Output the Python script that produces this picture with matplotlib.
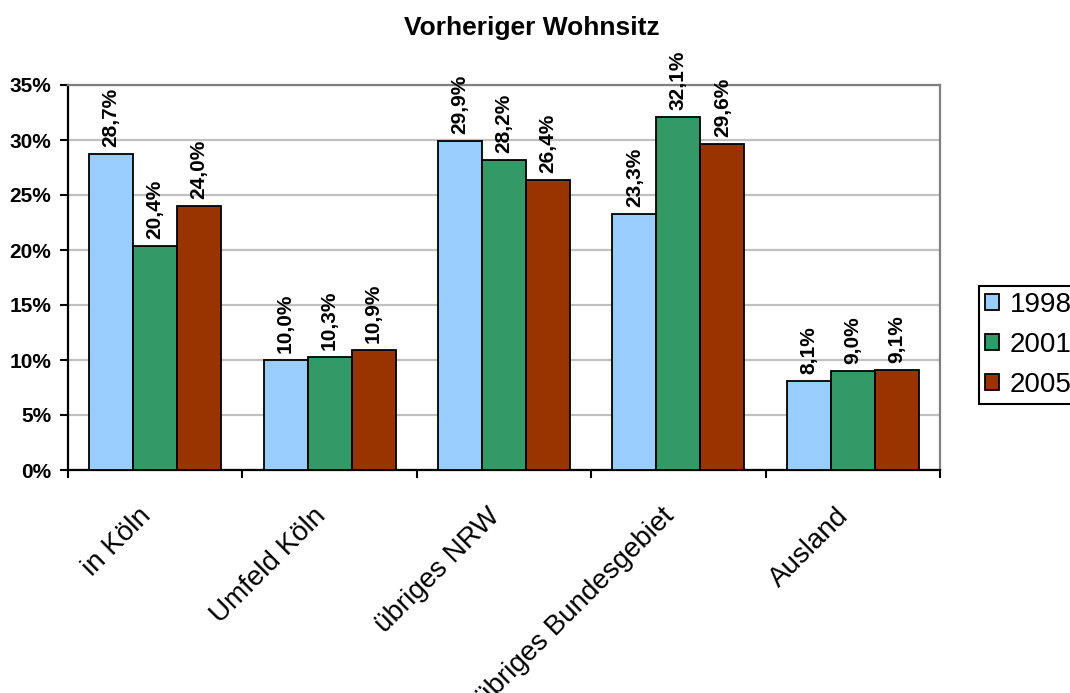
import numpy as np
import matplotlib
matplotlib.use("Agg")
import matplotlib.pyplot as plt
import matplotlib.transforms as mtransforms

plt.rcParams['font.family'] = ['Liberation Sans', 'DejaVu Sans']

# Vorheriger Wohnsitz, Anteile in Prozent
categories = ['in Köln', 'Umfeld Köln', 'übriges NRW', 'übriges Bundesgebiet', 'Ausland']
years = ['1998', '2001', '2005']
v1998 = [28.7, 10.0, 29.9, 23.3, 8.1]
v2001 = [20.4, 10.3, 28.2, 32.1, 9.0]
v2005 = [24.0, 10.9, 26.4, 29.6, 9.1]
colors = ['#99CCFF', '#339966', '#993300']
yticks = [0, 5, 10, 15, 20, 25, 30, 35]

fig = plt.figure(figsize=(10.7, 6.93), dpi=100)
ax = fig.add_axes([68 / 1070, 1 - 470 / 693, 872 / 1070, 385 / 693])

x = np.arange(len(categories))
width = 0.2523
series = [v1998, v2001, v2005]
for k, (vals, col, lab) in enumerate(zip(series, colors, years)):
    pos = x + (k - 1) * width
    bars = ax.bar(pos, vals, width, color=col, edgecolor='black',
                  linewidth=1.3, label=lab, zorder=3)
    for b, v in zip(bars, vals):
        ax.annotate(f"{v:.1f}%".replace('.', ','),
                    (b.get_x() + b.get_width() / 2, v),
                    xytext=(0, 5), textcoords='offset points',
                    rotation=90, ha='center', va='bottom',
                    fontsize=15, fontweight='bold', zorder=4)

ax.set_xlim(-0.5, len(categories) - 0.5)
ax.set_ylim(0, 35)
ax.set_yticks(yticks)
ax.set_yticklabels([f"{t}%" for t in yticks], fontsize=15, fontweight='bold')
ax.yaxis.grid(True, color='#c0c0c0', linewidth=1.6, zorder=0)
ax.set_axisbelow(True)

# tick marks between the groups, labels drawn separately
ax.set_xticks(np.arange(len(categories) + 1) - 0.5)
ax.set_xticklabels([])
ax.tick_params(axis='both', direction='out', length=6, width=1.5, color='black')
ax.tick_params(axis='y', pad=6)

offset = mtransforms.ScaledTranslation(-8 / 100, -42 / 100, fig.dpi_scale_trans)
trans = mtransforms.blended_transform_factory(ax.transData, ax.transAxes) + offset
for xi, cat in zip(x, categories):
    ax.text(xi, 0, cat, transform=trans, rotation=45, rotation_mode='anchor',
            ha='right', va='center', fontsize=20)

for side in ['left', 'bottom']:
    ax.spines[side].set_color('black')
    ax.spines[side].set_linewidth(1.6)
for side in ['top', 'right']:
    ax.spines[side].set_color('#808080')
    ax.spines[side].set_linewidth(1.6)

fig.text(532 / 1070, 1 - 28 / 693, 'Vorheriger Wohnsitz', ha='center', va='center',
         fontsize=19, fontweight='bold')

leg = fig.legend(loc='upper left', bbox_to_anchor=(979 / 1070, 1 - 286 / 693),
                 fontsize=20, frameon=True, fancybox=False, edgecolor='black',
                 framealpha=1, handlelength=0.5, handleheight=0.5,
                 handletextpad=0.4, labelspacing=0.5, borderpad=0.22,
                 borderaxespad=0)
leg.get_frame().set_linewidth(1.5)

fig.savefig('out.png', dpi=100)
